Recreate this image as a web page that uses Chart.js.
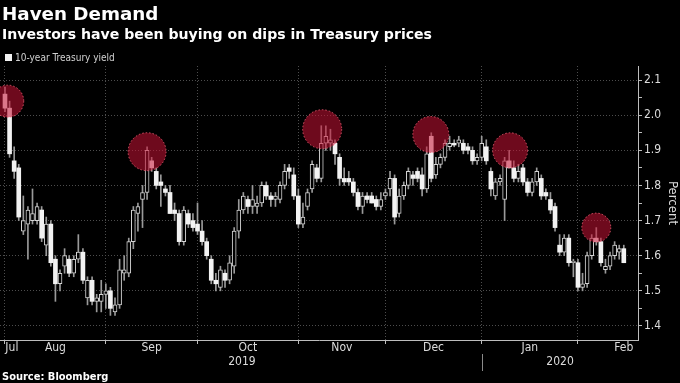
<!DOCTYPE html>
<html>
<head>
<meta charset="utf-8">
<title>Haven Demand</title>
<script src="https://cdn.jsdelivr.net/npm/chart.js@4.4.1/dist/chart.umd.min.js"></script>
<style>
  body { margin: 0; background: #000; }
  #wrap { position: relative; width: 680px; height: 383px; overflow: hidden; background: #000; }
  #myChart { position: absolute; left: 0; top: 0; }
  .txt { position: absolute; left: 2px; color: #fff; font-weight: bold; line-height: 1; white-space: nowrap; }
  #title { top: 5px; font-family: "DejaVu Sans", sans-serif; font-size: 18.3px; }
  #subtitle { top: 26.5px; font-family: "DejaVu Sans", sans-serif; font-size: 14.1px; }
  #source { top: 371px; font-family: "DejaVu Sans Condensed", "DejaVu Sans", sans-serif; font-size: 11px; }
  #legendBox { position: absolute; left: 5px; top: 54px; width: 7px; height: 7px; background: #f2f2f2; }
  #legendText { position: absolute; left: 15px; top: 53px; font-family: "DejaVu Sans Condensed", "DejaVu Sans", sans-serif;
    font-size: 10px; line-height: 1; color: #d0d0d0; white-space: nowrap; }
</style>
</head>
<body>
<div id="wrap">
  <canvas id="myChart" width="680" height="383"></canvas>
  <div class="txt" id="title">Haven Demand</div>
  <div class="txt" id="subtitle">Investors have been buying on dips in Treasury prices</div>
  <div id="legendBox"></div>
  <div id="legendText">10-year Treasury yield</div>
  <div class="txt" id="source">Source: Bloomberg</div>
</div>
<script>
// 10-year Treasury yield, daily candles, Jul 31 2019 - Feb 14 2020 (index = trading day)
const opens = [
  2.06, 2.02, 1.87, 1.85, 1.67, 1.69, 1.70, 1.70, 1.73, 1.63,
  1.69, 1.59, 1.52, 1.57, 1.59, 1.55, 1.59, 1.61, 1.48, 1.53,
  1.47, 1.47, 1.49, 1.50, 1.44, 1.46, 1.55, 1.55, 1.64, 1.72,
  1.76, 1.78, 1.87, 1.84, 1.81, 1.79, 1.78, 1.73, 1.72, 1.64,
  1.72, 1.70, 1.69, 1.67, 1.64, 1.59, 1.53, 1.51, 1.55, 1.53,
  1.57, 1.67, 1.73, 1.76, 1.74, 1.74, 1.75, 1.80, 1.77, 1.76,
  1.76, 1.80, 1.85, 1.83, 1.77, 1.69, 1.74, 1.79, 1.85, 1.82,
  1.92, 1.92, 1.92, 1.88, 1.82, 1.82, 1.81, 1.78, 1.74, 1.77,
  1.77, 1.76, 1.74, 1.77, 1.79, 1.82, 1.72, 1.77, 1.80, 1.83,
  1.84, 1.83, 1.79, 1.94, 1.83, 1.86, 1.88, 1.91, 1.92, 1.92,
  1.92, 1.91, 1.90, 1.87, 1.88, 1.91, 1.84, 1.77, 1.81, 1.76,
  1.87, 1.85, 1.82, 1.85, 1.81, 1.78, 1.81, 1.82, 1.78, 1.76,
  1.74, 1.63, 1.61, 1.65, 1.58, 1.58, 1.51, 1.52, 1.60, 1.65,
  1.64, 1.56, 1.57, 1.60, 1.61, 1.62
];
const highs = [
  2.08, 2.04, 1.91, 1.86, 1.77, 1.74, 1.79, 1.75, 1.74, 1.71,
  1.70, 1.60, 1.56, 1.62, 1.60, 1.60, 1.66, 1.62, 1.54, 1.54,
  1.49, 1.53, 1.52, 1.51, 1.48, 1.59, 1.60, 1.65, 1.74, 1.75,
  1.80, 1.91, 1.88, 1.85, 1.83, 1.80, 1.80, 1.75, 1.73, 1.74,
  1.73, 1.72, 1.75, 1.70, 1.65, 1.60, 1.55, 1.57, 1.56, 1.60,
  1.68, 1.76, 1.78, 1.77, 1.80, 1.77, 1.81, 1.81, 1.78, 1.78,
  1.81, 1.86, 1.86, 1.85, 1.79, 1.75, 1.79, 1.87, 1.86, 1.97,
  1.97, 1.96, 1.93, 1.89, 1.85, 1.84, 1.82, 1.79, 1.78, 1.78,
  1.78, 1.77, 1.78, 1.79, 1.84, 1.83, 1.79, 1.81, 1.85, 1.84,
  1.85, 1.85, 1.91, 1.95, 1.88, 1.89, 1.93, 1.94, 1.93, 1.94,
  1.93, 1.92, 1.91, 1.89, 1.94, 1.93, 1.85, 1.82, 1.83, 1.88,
  1.90, 1.87, 1.86, 1.86, 1.82, 1.82, 1.85, 1.83, 1.79, 1.78,
  1.75, 1.66, 1.66, 1.66, 1.59, 1.59, 1.55, 1.61, 1.66, 1.68,
  1.65, 1.59, 1.61, 1.64, 1.63, 1.63
];
const lows = [
  2.01, 1.88, 1.82, 1.70, 1.66, 1.59, 1.69, 1.69, 1.64, 1.60,
  1.57, 1.47, 1.50, 1.55, 1.54, 1.54, 1.58, 1.52, 1.46, 1.46,
  1.44, 1.44, 1.45, 1.43, 1.43, 1.45, 1.53, 1.54, 1.62, 1.67,
  1.68, 1.76, 1.84, 1.79, 1.74, 1.77, 1.72, 1.70, 1.63, 1.63,
  1.68, 1.67, 1.66, 1.63, 1.59, 1.52, 1.50, 1.50, 1.51, 1.52,
  1.55, 1.65, 1.72, 1.72, 1.72, 1.72, 1.74, 1.76, 1.74, 1.74,
  1.75, 1.79, 1.82, 1.76, 1.68, 1.68, 1.73, 1.78, 1.81, 1.81,
  1.90, 1.90, 1.86, 1.80, 1.80, 1.80, 1.77, 1.73, 1.72, 1.75,
  1.75, 1.73, 1.73, 1.76, 1.77, 1.69, 1.71, 1.76, 1.79, 1.80,
  1.81, 1.77, 1.78, 1.81, 1.82, 1.85, 1.87, 1.90, 1.91, 1.91,
  1.89, 1.89, 1.86, 1.86, 1.87, 1.86, 1.77, 1.76, 1.80, 1.70,
  1.85, 1.81, 1.81, 1.80, 1.77, 1.77, 1.80, 1.76, 1.76, 1.72,
  1.67, 1.60, 1.60, 1.57, 1.54, 1.50, 1.50, 1.51, 1.59, 1.63,
  1.57, 1.55, 1.56, 1.59, 1.59, 1.58
];
const closes = [
  2.02, 1.89, 1.84, 1.71, 1.70, 1.73, 1.72, 1.74, 1.65, 1.69,
  1.58, 1.52, 1.55, 1.60, 1.55, 1.59, 1.61, 1.53, 1.53, 1.47,
  1.48, 1.49, 1.50, 1.45, 1.46, 1.56, 1.56, 1.64, 1.73, 1.74,
  1.78, 1.90, 1.85, 1.80, 1.80, 1.78, 1.72, 1.72, 1.64, 1.73,
  1.69, 1.68, 1.67, 1.64, 1.60, 1.53, 1.52, 1.56, 1.53, 1.58,
  1.67, 1.73, 1.77, 1.74, 1.76, 1.75, 1.80, 1.77, 1.76, 1.77,
  1.80, 1.84, 1.84, 1.77, 1.69, 1.71, 1.78, 1.86, 1.82, 1.92,
  1.94, 1.93, 1.89, 1.82, 1.81, 1.81, 1.78, 1.74, 1.77, 1.76,
  1.75, 1.74, 1.76, 1.78, 1.82, 1.71, 1.77, 1.80, 1.84, 1.82,
  1.82, 1.79, 1.89, 1.82, 1.86, 1.88, 1.92, 1.92, 1.915, 1.93,
  1.90, 1.90, 1.87, 1.88, 1.92, 1.87, 1.79, 1.81, 1.82, 1.87,
  1.85, 1.82, 1.84, 1.81, 1.78, 1.81, 1.84, 1.77, 1.77, 1.73,
  1.68, 1.61, 1.65, 1.58, 1.585, 1.51, 1.52, 1.60, 1.65, 1.64,
  1.58, 1.57, 1.60, 1.63, 1.62, 1.58
];

// last trading day of each month (index) -> vertical grid lines
const monthEnds = [0, 22, 42, 64, 83, 104, 125];
const monthLabels = ["Jul", "Aug", "Sep", "Oct", "Nov", "Dec", "Jan", "Feb"];
const monthLabelAt = [1.5, 11, 32, 53, 73.5, 93.5, 114.5, 135];
const yearLabels = ["2019", "2020"];
const yearLabelAt = [51.7, 121.1];
const yearBreakAt = 104;
const yTicks = [1.4, 1.45, 1.5, 1.55, 1.6, 1.65, 1.7, 1.75, 1.8, 1.85, 1.9, 1.95, 2.0, 2.05, 2.1];

// circled dips in price (yield highs)
const highlightDays = [0.6, 31, 69.2, 92.9, 110.2, 129];
const highlightLevels = [2.04, 1.896, 1.96, 1.945, 1.9, 1.68];
const highlightRadius = [16, 19, 19.5, 18, 17.5, 14.5];

const X_MIN = -1.09;
const X_MAX = 138.1;
const days = opens.map((_, i) => i);
const isUp = (i) => closes[i] >= opens[i];
const isMajor = (v) => Math.abs(v * 10 - Math.round(v * 10)) < 1e-6;

const FONT = "'DejaVu Sans Condensed', 'DejaVu Sans', sans-serif";
Chart.defaults.font.family = FONT;
Chart.defaults.color = "#d9d9d9";

// keep horizontal axes flush with the canvas edges
const noSidePad = (s) => { s.paddingLeft = 0; s.paddingRight = 0; };

// dotted outline for the circles + year separator
const extras = {
  id: "extras",
  beforeDatasetDraw(chart, args) {
    if (args.meta.type === "scatter") {
      chart.ctx.save();
      chart.ctx.setLineDash([1.5, 2]);
    }
  },
  afterDatasetDraw(chart, args) {
    if (args.meta.type === "scatter") chart.ctx.restore();
  },
  afterDraw(chart) {
    const s = chart.scales.xYear;
    const ctx = chart.ctx;
    const x = Math.round(s.getPixelForValue(yearBreakAt)) + 0.5;
    ctx.save();
    ctx.strokeStyle = "#8a8a8a";
    ctx.lineWidth = 1;
    ctx.beginPath();
    ctx.moveTo(x, s.top - 1);
    ctx.lineTo(x, s.bottom + 3);
    ctx.stroke();
    ctx.restore();
  },
};

const ctx = document.getElementById("myChart");

new Chart(ctx, {
  type: "bar",
  data: {
    datasets: [
      {
        type: "scatter",
        label: "Dips",
        order: 0,
        data: highlightDays.map((d, i) => ({ x: d, y: highlightLevels[i] })),
        pointRadius: highlightRadius,
        pointHoverRadius: highlightRadius,
        pointBackgroundColor: "rgba(200, 18, 52, 0.55)",
        pointBorderColor: "rgba(235, 95, 115, 0.85)",
        pointBorderWidth: 1,
        xAxisID: "x",
        yAxisID: "y",
      },
      {
        label: "10-year Treasury yield",
        order: 1,
        data: days.map((i) => ({ x: i, y: [Math.min(opens[i], closes[i]), Math.max(opens[i], closes[i])] })),
        backgroundColor: days.map((i) => (isUp(i) ? "#000000" : "#f2f2f2")),
        borderColor: days.map((i) => (isUp(i) ? "#d4d4d4" : "#f2f2f2")),
        borderWidth: days.map((i) => (isUp(i) ? 1 : 0)),
        borderSkipped: false,
        barThickness: 4,
        minBarLength: 1,
        grouped: false,
        xAxisID: "x",
        yAxisID: "y",
      },
      {
        label: "Range",
        order: 2,
        data: days.map((i) => ({ x: i, y: [lows[i], highs[i]] })),
        backgroundColor: "#9a9a9a",
        barThickness: 1,
        grouped: false,
        xAxisID: "x",
        yAxisID: "y",
      },
    ],
  },
  options: {
    responsive: false,
    animation: false,
    events: [],
    layout: { autoPadding: false, padding: { top: 66, bottom: 15, left: 0, right: 0 } },
    plugins: {
      tooltip: { enabled: false },
      legend: { display: false },
    },
    scales: {
      x: {
        type: "linear",
        position: "bottom",
        min: X_MIN,
        max: X_MAX,
        offset: false,
        weight: 0,
        afterBuildTicks: (s) => { s.ticks = monthEnds.map((v) => ({ value: v })); },
        afterFit: (s) => { s.height = 1; noSidePad(s); },
        ticks: { display: false },
        grid: { color: "#4d4d4d", tickColor: "#bdbdbd", tickLength: 4, offset: false },
        border: { display: true, color: "#bdbdbd", dash: [1, 2] },
      },
      xMonth: {
        type: "linear",
        position: "bottom",
        min: X_MIN,
        max: X_MAX,
        offset: false,
        weight: 1,
        afterBuildTicks: (s) => { s.ticks = monthLabelAt.map((v) => ({ value: v })); },
        afterFit: (s) => { s.height = 14; noSidePad(s); },
        ticks: { autoSkip: false, maxRotation: 0, padding: 0, color: "#dcdcdc", font: { size: 12 }, callback: (v, i) => monthLabels[i] },
        grid: { display: false, drawTicks: false },
        border: { display: false },
      },
      xYear: {
        type: "linear",
        position: "bottom",
        min: X_MIN,
        max: X_MAX,
        offset: false,
        weight: 2,
        afterBuildTicks: (s) => { s.ticks = yearLabelAt.map((v) => ({ value: v })); },
        afterFit: (s) => { s.height = 13; noSidePad(s); },
        ticks: { autoSkip: false, maxRotation: 0, padding: 0, color: "#dcdcdc", font: { size: 12 }, callback: (v, i) => yearLabels[i] },
        grid: { display: false, drawTicks: false },
        border: { display: false },
      },
      y: {
        type: "linear",
        position: "right",
        min: 1.36,
        max: 2.14,
        afterBuildTicks: (s) => { s.ticks = yTicks.map((v) => ({ value: v })); },
        afterFit: (s) => { s.width = 42; },
        ticks: { padding: 2, color: "#dcdcdc", font: { size: 12 }, callback: (v) => (isMajor(v) ? v.toFixed(1) : "") },
        grid: {
          color: (c) => (c.tick && isMajor(c.tick.value) ? "#4d4d4d" : "rgba(0,0,0,0)"),
          tickColor: "#bdbdbd",
          tickLength: 4,
        },
        border: { display: true, color: "#bdbdbd", dash: [1, 2] },
        title: { display: true, text: "Percent", color: "#dcdcdc", font: { size: 13 }, padding: { top: 0, bottom: 2 } },
      },
    },
  },
  plugins: [extras],
});
</script>
</body>
</html>
